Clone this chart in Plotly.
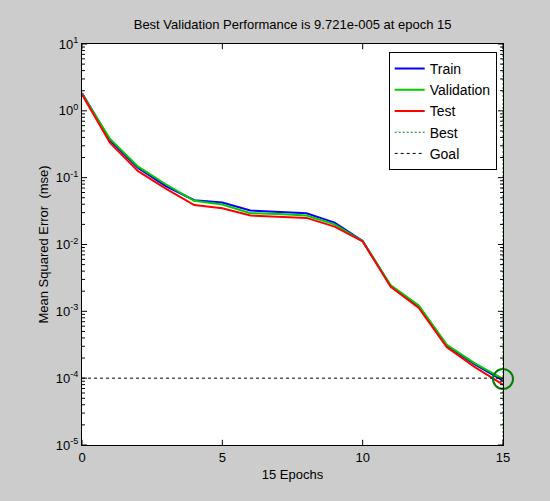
import plotly.graph_objects as go

# Training record: mean squared error per epoch
epochs = list(range(16))
train_mse = [1.85, 0.36, 0.14, 0.074, 0.046, 0.0424, 0.0322, 0.0307, 0.0294, 0.0213,
             0.0113, 0.0024, 0.00118, 3.05e-4, 1.6e-4, 9.2e-5]
val_mse = [1.80, 0.38, 0.146, 0.079, 0.045, 0.0396, 0.0294, 0.0286, 0.0271, 0.0200,
           0.0112, 0.00245, 0.00122, 3.15e-4, 1.67e-4, 9.721e-5]
test_mse = [1.75, 0.33, 0.125, 0.068, 0.039, 0.0349, 0.0271, 0.0262, 0.0250, 0.0185,
            0.0111, 0.00232, 0.00112, 2.9e-4, 1.46e-4, 8.0e-5]

best_epoch = 15
best_perf = 9.721e-5
goal = 1e-4
y_range = [1e-5, 1e1]

# Decade ticks on the error axis
y_tick_vals = [1e-5, 1e-4, 1e-3, 1e-2, 1e-1, 1e0, 1e1]
y_tick_text = ["10<sup>-5</sup>", "10<sup>-4</sup>", "10<sup>-3</sup>", "10<sup>-2</sup>",
               "10<sup>-1</sup>", "10<sup>0</sup>", "10<sup>1</sup>"]
# Minor ticks at 2..9 within each decade
y_minor_vals = [m * 10.0 ** e for e in range(-5, 1) for m in range(2, 10)]
x_tick_vals = [0, 5, 10, 15]

font = "Arial, Liberation Sans, sans-serif"

fig = go.Figure()
fig.add_trace(go.Scatter(x=epochs, y=train_mse, mode="lines", name="Train",
                         line=dict(color="#0000ff", width=2)))
fig.add_trace(go.Scatter(x=epochs, y=val_mse, mode="lines", name="Validation",
                         line=dict(color="#00cc00", width=2)))
fig.add_trace(go.Scatter(x=epochs, y=test_mse, mode="lines", name="Test",
                         line=dict(color="#ff0000", width=2)))
fig.add_trace(go.Scatter(x=[best_epoch, best_epoch], y=y_range, mode="lines", name="Best",
                         line=dict(color="#008000", width=1, dash="2px,2px")))
fig.add_trace(go.Scatter(x=[epochs[0], epochs[-1]], y=[goal, goal], mode="lines", name="Goal",
                         line=dict(color="#000000", width=1, dash="3px,3px")))
fig.add_trace(go.Scatter(x=[best_epoch], y=[best_perf], mode="markers", showlegend=False,
                         marker=dict(symbol="circle-open", size=20, color="#008000",
                                     line=dict(width=2, color="#008000")),
                         cliponaxis=False))

# Inward tick marks on all four sides of the axes box
tick_style = dict(color="#000000", width=1)
for v in y_tick_vals:
    for x0, x1 in ((0, 0.012), (0.988, 1)):
        fig.add_shape(type="line", xref="x domain", yref="y", x0=x0, x1=x1, y0=v, y1=v,
                      line=tick_style, layer="above")
for v in y_minor_vals:
    for x0, x1 in ((0, 0.007), (0.993, 1)):
        fig.add_shape(type="line", xref="x domain", yref="y", x0=x0, x1=x1, y0=v, y1=v,
                      line=tick_style, layer="above")
for v in x_tick_vals:
    for y0, y1 in ((0, 0.013), (0.987, 1)):
        fig.add_shape(type="line", xref="x", yref="y domain", x0=v, x1=v, y0=y0, y1=y1,
                      line=tick_style, layer="above")

fig.update_layout(
    width=550, height=501,
    paper_bgcolor="#cccccc", plot_bgcolor="#ffffff",
    margin=dict(l=82, r=47, t=44, b=56),
    font=dict(family=font, size=12, color="#000000"),
    title=dict(text="Best Validation Performance is 9.721e-005 at epoch 15",
               x=0.532, xanchor="center", y=0.952, yanchor="middle",
               font=dict(size=13)),
    legend=dict(x=0.985, y=0.98, xanchor="right", yanchor="top",
                bgcolor="#ffffff", bordercolor="#000000", borderwidth=1,
                font=dict(size=14), tracegroupgap=0),
    showlegend=True,
    xaxis=dict(range=[0, 15], tickmode="array", tickvals=x_tick_vals,
               ticks="", showline=True, linecolor="#000000", linewidth=1, mirror=True,
               showgrid=False, zeroline=False,
               title=dict(text="15 Epochs", font=dict(size=13), standoff=6),
               tickfont=dict(size=13)),
    yaxis=dict(type="log", range=[-5, 1], tickmode="array",
               tickvals=y_tick_vals, ticktext=y_tick_text,
               ticks="", showline=True, linecolor="#000000", linewidth=1, mirror=True,
               showgrid=False, zeroline=False,
               title=dict(text="Mean Squared Error  (mse)", font=dict(size=13), standoff=4),
               tickfont=dict(size=13)),
)

fig.write_html("out.html")
